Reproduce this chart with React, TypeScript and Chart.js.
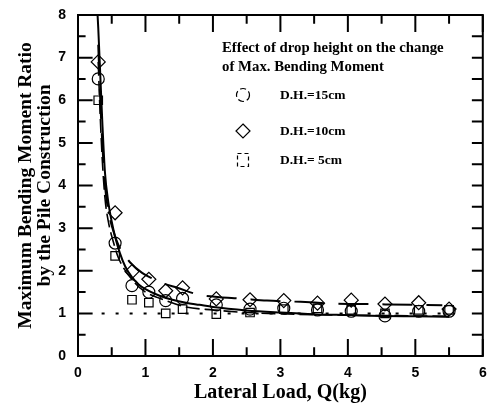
import React, { useEffect, useRef } from "react";
import { Chart, registerables } from "chart.js";

Chart.register(...registerables);

// ---- data ----
const loadQ = [0.3, 0.55, 0.8, 1.05, 1.3, 1.55, 2.05, 2.55, 3.05, 3.55, 4.05, 4.55, 5.05, 5.5];
const ratioDH15 = [6.5, 2.65, 1.65, 1.5, 1.3, 1.35, 1.2, 1.1, 1.12, 1.08, 1.05, 0.94, 1.05, 1.05];
const ratioDH10 = [6.9, 3.36, 1.98, 1.8, 1.53, 1.6, 1.34, 1.32, 1.3, 1.24, 1.31, 1.22, 1.25, 1.1];
const ratioDH5 = [6.0, 2.35, 1.32, 1.25, 1.0, 1.1, 0.98, 1.02, 1.1, 1.12, 1.08, 1.0, 1.08, 1.08];

const fit15X = [0.29, 0.3, 0.33, 0.36, 0.4, 0.45, 0.5, 0.55, 0.62, 0.7, 0.8, 0.9, 1.0, 1.2, 1.4, 1.6, 1.8, 2.0, 2.5, 3.0, 3.5, 4.0, 4.5, 5.0, 5.5];
const fit15Y = [8.0, 7.7, 6.6, 5.5, 4.3, 3.6, 3.15, 2.8, 2.42, 2.1, 1.85, 1.68, 1.57, 1.42, 1.32, 1.25, 1.2, 1.15, 1.07, 1.02, 0.98, 0.96, 0.94, 0.93, 0.92];

const fit10X = [0.3, 0.33, 0.36, 0.4, 0.45, 0.52, 0.6, 0.7, 0.77, 0.95, 1.1, 1.25, 1.47, 1.81, 2.1, 2.4, 2.8, 3.3, 3.8, 4.2, 4.6, 5.0, 5.4];
const fit10Y = [7.3, 6.0, 5.0, 4.0, 3.4, 2.95, 2.6, 2.35, 2.2, 1.95, 1.82, 1.71, 1.6, 1.43, 1.38, 1.35, 1.3, 1.27, 1.23, 1.22, 1.21, 1.2, 1.19];

const fit5X = [0.3, 0.32, 0.36, 0.4, 0.45, 0.52, 0.6, 0.84, 1.0, 1.2, 1.6, 2.0, 2.5, 3.0, 3.5, 4.0, 4.5, 5.0, 5.5];
const fit5Y = [6.9, 6.0, 4.6, 3.7, 3.15, 2.7, 2.3, 1.72, 1.5, 1.36, 1.15, 1.08, 1.02, 0.99, 0.97, 0.96, 0.95, 0.94, 0.93];

const refX = [0.35, 5.5];
const refY = [1, 1];

const xMin = 0, xMax = 6, xStep = 1;
const yMin = 0, yMax = 8, yStep = 1;
const xTickVals = [0, 0.5, 1, 1.5, 2, 2.5, 3, 3.5, 4, 4.5, 5, 5.5, 6];
const yTickVals = [0, 0.5, 1, 1.5, 2, 2.5, 3, 3.5, 4, 4.5, 5, 5.5, 6, 6.5, 7, 7.5, 8];

const legendTitle = ["Effect of drop height on the change", "of Max. Bending Moment"];
const legendLabels = ["D.H.=15cm", "D.H.=10cm", "D.H.= 5cm"];
const xTitle = "Lateral Load, Q(kg)";
const yTitle = ["Maximum Bending Moment Ratio", "by the Pile Construction"];

const pts = (xs: number[], ys: number[]) => xs.map((x, i) => ({ x, y: ys[i] }));
const isMajor = (v: number) => Math.abs(v - Math.round(v)) < 1e-9;

// inward tick marks as short segments (lengths as fractions of the axis span)
const majorFrac = 0.05, minorFrac = 0.026, rightFrac = 0.027;
function tickSegments() {
  const out: any[] = [];
  const xs = xMax - xMin, ys = yMax - yMin;
  xTickVals.forEach((v) => {
    const l = (isMajor(v) ? majorFrac : minorFrac) * ys;
    out.push({ x: v, y: yMin }, { x: v, y: yMin + l }, { x: v, y: null });
    out.push({ x: v, y: yMax }, { x: v, y: yMax - l }, { x: v, y: null });
  });
  yTickVals.forEach((v) => {
    const l = (isMajor(v) ? majorFrac : minorFrac) * 0.85 * xs;
    out.push({ x: xMin, y: v }, { x: xMin + l * 0.85, y: v }, { x: null, y: null });
    out.push({ x: xMax, y: v }, { x: xMax - rightFrac * xs, y: v }, { x: null, y: null });
  });
  return out;
}
const frameCorners = [
  { x: xMin, y: yMin }, { x: xMax, y: yMin }, { x: xMax, y: yMax }, { x: xMin, y: yMax }, { x: xMin, y: yMin },
];

const tickFont = { family: "'Liberation Sans', Arial, sans-serif", weight: "bold", size: 14 };

export default function App() {
  const ref = useRef<HTMLCanvasElement>(null);
  useEffect(() => {
    const legendPlugin = {
      id: "legendText",
      afterDraw(chart: any) {
        const ctx: CanvasRenderingContext2D = chart.ctx;
        ctx.save();
        ctx.fillStyle = "#000";
        ctx.strokeStyle = "#000";
        ctx.lineWidth = 1.2;
        ctx.textBaseline = "middle";
        ctx.textAlign = "left";
        ctx.font = "bold 14.8px 'Liberation Serif', serif";
        ctx.fillText(legendTitle[0], 222, 48);
        ctx.fillText(legendTitle[1], 222, 67);
        ctx.font = "bold 13.5px 'Liberation Serif', serif";
        const rows = [95, 131, 160];
        const mx = 243;
        ctx.setLineDash([6, 3]);
        ctx.beginPath(); ctx.arc(mx, rows[0], 6.5, 0, Math.PI * 2); ctx.stroke();
        ctx.setLineDash([]);
        ctx.beginPath(); ctx.moveTo(mx, rows[1] - 7); ctx.lineTo(mx + 7, rows[1]); ctx.lineTo(mx, rows[1] + 7); ctx.lineTo(mx - 7, rows[1]); ctx.closePath(); ctx.stroke();
        ctx.setLineDash([4, 3]);
        ctx.strokeRect(mx - 5.5, rows[2] - 6.5, 11, 13);
        ctx.setLineDash([]);
        legendLabels.forEach((t, i) => ctx.fillText(t, 280, rows[i] + 1));
        ctx.restore();
      },
    };

    const chart = new Chart(ref.current!, {
      type: "scatter",
      data: {
        datasets: [
          { label: "frame", data: frameCorners, showLine: true, borderColor: "#000", borderWidth: 2, pointRadius: 0, tension: 0, clip: false },
          { label: "ticks", data: tickSegments(), showLine: true, spanGaps: false, borderColor: "#000", borderWidth: 2, pointRadius: 0, tension: 0, clip: false },
          { label: "ref", data: pts(refX, refY), showLine: true, borderColor: "#000", borderWidth: 2, borderDash: [3, 11], pointRadius: 0 },
          { label: "fit15", data: pts(fit15X, fit15Y), showLine: true, borderColor: "#000", borderWidth: 2, pointRadius: 0, cubicInterpolationMode: "monotone" },
          { label: "fit10", data: pts(fit10X, fit10Y), showLine: true, borderColor: "#000", borderWidth: 2, borderDash: [30, 14], pointRadius: 0, cubicInterpolationMode: "monotone" },
          { label: "fit5", data: pts(fit5X, fit5Y), showLine: true, borderColor: "#000", borderWidth: 1.6, borderDash: [14, 5], pointRadius: 0, cubicInterpolationMode: "monotone" },
          { label: legendLabels[0], data: pts(loadQ, ratioDH15), pointStyle: "circle", pointRadius: 6, borderColor: "#000", backgroundColor: "rgba(0,0,0,0)", borderWidth: 1.2, showLine: false },
          { label: legendLabels[1], data: pts(loadQ, ratioDH10), pointStyle: "rectRot", pointRadius: 7, borderColor: "#000", backgroundColor: "rgba(0,0,0,0)", borderWidth: 1.2, showLine: false },
          { label: legendLabels[2], data: pts(loadQ, ratioDH5), pointStyle: "rect", pointRadius: 6, borderColor: "#000", backgroundColor: "rgba(0,0,0,0)", borderWidth: 1.2, showLine: false },
        ],
      },
      options: {
        animation: false,
        responsive: true,
        maintainAspectRatio: false,
        layout: { padding: { left: 0, right: 6, top: 15, bottom: 0 } },
        plugins: { legend: { display: false }, tooltip: { enabled: false } },
        scales: {
          x: {
            type: "linear",
            position: "bottom",
            min: xMin, max: xMax,
            ticks: { stepSize: xStep, padding: 9, color: "#000", font: tickFont },
            grid: { display: false, drawTicks: false },
            border: { display: true, color: "#000", width: 2 },
            title: { display: true, text: xTitle, color: "#000", font: { family: "'Liberation Serif', serif", weight: "bold", size: 20, lineHeight: 1.1 }, padding: { top: 0, bottom: 6 } },
            afterFit(s: any) { s.height = 54; s.paddingLeft = 0; s.paddingRight = 0; },
          },
          y: {
            type: "linear",
            position: "left",
            min: yMin, max: yMax,
            ticks: { stepSize: yStep, padding: 12, color: "#000", font: tickFont },
            grid: { display: false, drawTicks: false },
            border: { display: true, color: "#000", width: 2 },
            title: { display: true, text: yTitle, color: "#000", font: { family: "'Liberation Serif', serif", weight: "bold", size: 19.5, lineHeight: 0.95 }, padding: { top: 17, bottom: 0 } },
            afterFit(s: any) { s.width = 78; s.paddingTop = 0; s.paddingBottom = 0; },
          },
        },
      } as any,
      plugins: [legendPlugin],
    });
    return () => chart.destroy();
  }, []);

  return (
    <div style={{ position: "fixed", left: 0, top: 0, width: 491, height: 410, background: "#fff" }}>
      <canvas ref={ref} />
    </div>
  );
}
